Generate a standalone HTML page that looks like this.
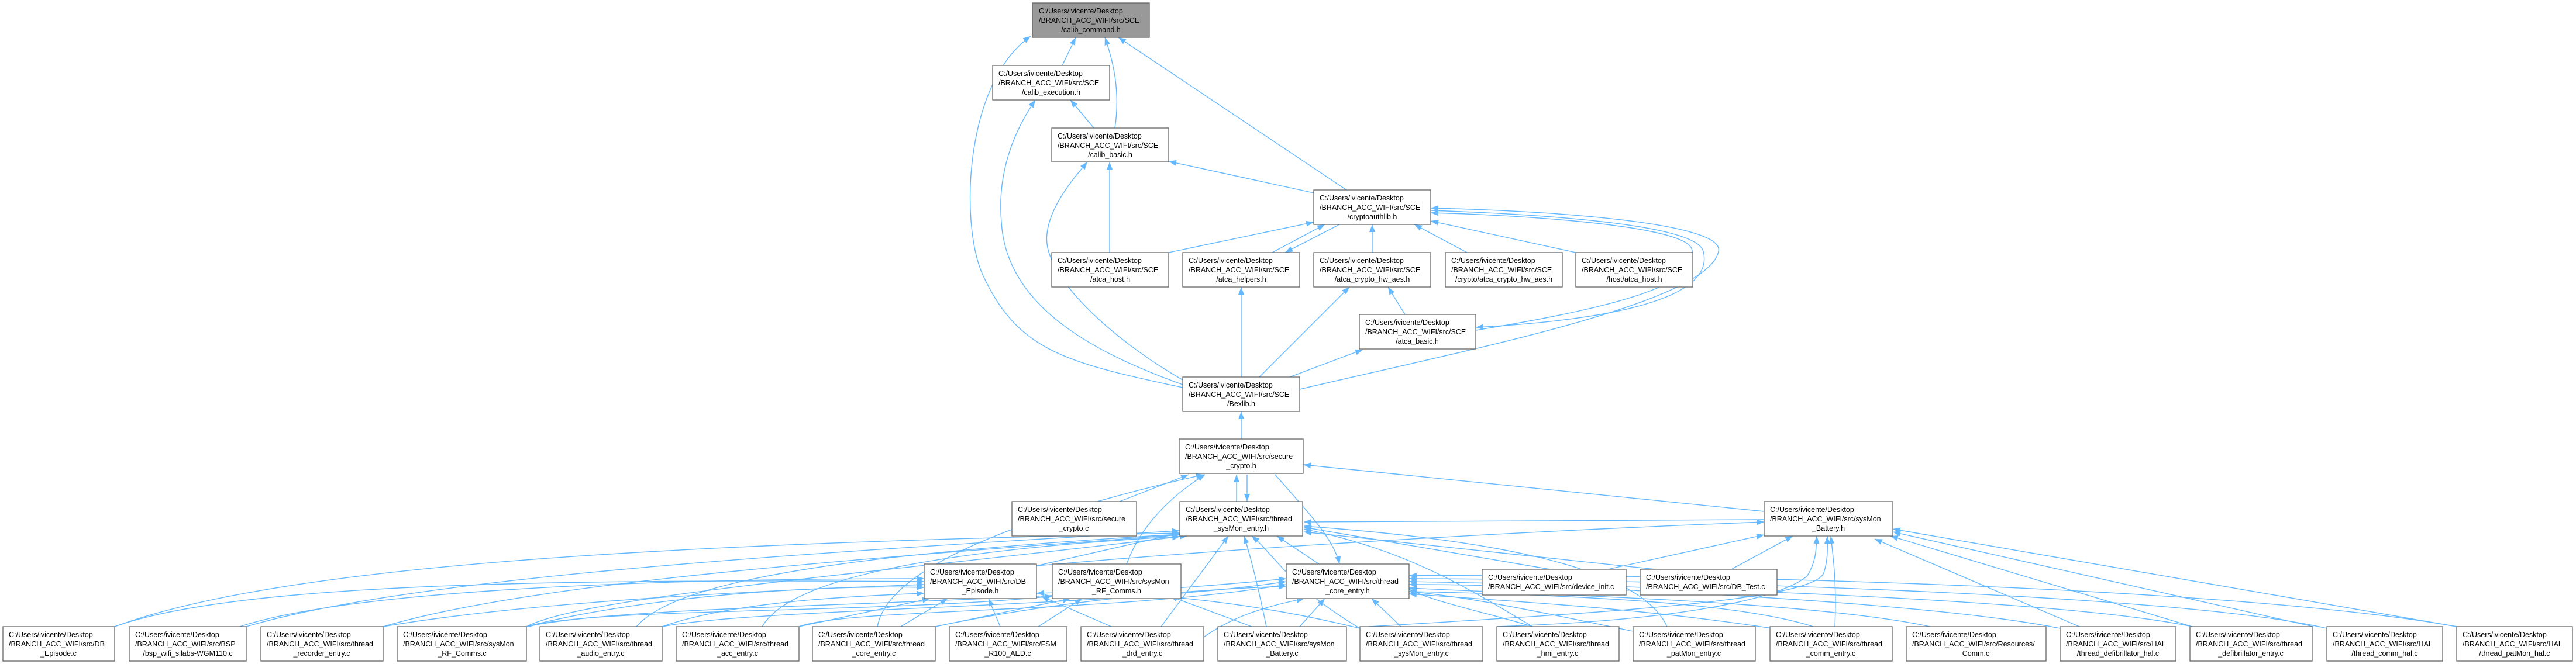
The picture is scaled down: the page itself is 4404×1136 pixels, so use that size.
<!DOCTYPE html>
<html><head><meta charset="utf-8"><style>
html,body{margin:0;padding:0;background:#fff;}
svg{display:block;}
text{font-family:"Liberation Sans",Arial,sans-serif;font-size:12.5px;fill:#000;}
.e{fill:none;stroke:#63b8ff;stroke-width:1.4;marker-end:url(#a);}
.n{fill:#fff;stroke:#666;stroke-width:1.3;}
</style></head><body>
<svg width="4404" height="1136" viewBox="0 0 4404 1136" xmlns="http://www.w3.org/2000/svg">
<defs><marker id="a" markerUnits="userSpaceOnUse" markerWidth="14" markerHeight="10" refX="13" refY="5" orient="auto"><path d="M0,0 L13,5 L0,10 z" fill="#63b8ff"/></marker></defs>
<g>
<path class="e" d="M1816,112 L1839,64"/>
<path class="e" d="M1906,219 C1915,160 1905,110 1889,64"/>
<path class="e" d="M2302,325 L1912,64"/>
<path class="e" d="M2022,663 C1820,620 1740,600 1680,470 C1640,380 1650,140 1762,62"/>
<path class="e" d="M1870,219 L1830,171"/>
<path class="e" d="M2022,658 C1860,600 1720,520 1712,380 C1705,300 1730,230 1770,171"/>
<path class="e" d="M2246,330 L1998,276"/>
<path class="e" d="M1897,432 L1897,277"/>
<path class="e" d="M2022,650 C1900,580 1780,470 1790,400 C1795,350 1840,300 1859,277"/>
<path class="e" d="M1998,432 L2246,380"/>
<path class="e" d="M2175,432 L2265,384"/>
<path class="e" d="M2290,384 L2197,432"/>
<path class="e" d="M2346,432 L2346,384"/>
<path class="e" d="M2508,432 L2418,384"/>
<path class="e" d="M2694,432 L2446,378"/>
<path class="e" d="M2523,565 C2800,520 2910,480 2892,425 C2875,385 2600,368 2446,364"/>
<path class="e" d="M2446,360 C2620,366 2900,382 2912,430 C2930,500 2800,545 2523,560"/>
<path class="e" d="M2222,666 C2500,600 2920,520 2938,430 C2950,380 2640,360 2446,356"/>
<path class="e" d="M2122,645 L2122,491"/>
<path class="e" d="M2153,645 L2307,491"/>
<path class="e" d="M2402,538 L2373,491"/>
<path class="e" d="M2205,645 L2330,598"/>
<path class="e" d="M2122,751 L2122,704"/>
<path class="e" d="M1914,858 L2032,812"/>
<path class="e" d="M2114,858 L2114,812"/>
<path class="e" d="M2132,812 L2132,858"/>
<path class="e" d="M3016,875 L2228,795"/>
<path class="e" d="M2180,812 C2230,870 2280,920 2290,965"/>
<path class="e" d="M1926,965 C1950,900 2000,850 2060,812"/>
<path class="e" d="M3016,889 L2229,893"/>
<path class="e" d="M1772,968 C2200,930 2700,905 3016,893"/>
<path class="e" d="M1772,968 L2017,912"/>
<path class="e" d="M2255,965 L2183,917"/>
<path class="e" d="M196,1072 C500,960 1200,930 2017,912"/>
<path class="e" d="M196,1072 C400,1000 900,990 1580,995"/>
<path class="e" d="M421,1072 C700,990 1300,950 2017,908"/>
<path class="e" d="M410,1072 C600,1010 1100,990 1580,990"/>
<path class="e" d="M655,1072 C900,1000 1400,960 2017,915"/>
<path class="e" d="M655,1072 C900,1030 1300,1010 1580,1000"/>
<path class="e" d="M900,1072 C1000,1020 1500,980 2017,918"/>
<path class="e" d="M900,1072 C1100,1020 1400,1000 1580,1005"/>
<path class="e" d="M900,1072 C1100,1030 1700,1040 2199,990"/>
<path class="e" d="M905,1072 C1000,1040 1500,1050 1799,1020"/>
<path class="e" d="M1088,1072 C1150,1000 1400,950 2017,914"/>
<path class="e" d="M1132,1072 C1300,1040 1900,1040 2199,995"/>
<path class="e" d="M1132,1072 C1250,1030 1450,1020 1580,1015"/>
<path class="e" d="M1303,1072 C1350,990 1600,940 2030,917"/>
<path class="e" d="M1366,1072 C1450,1040 1900,1050 2199,1000"/>
<path class="e" d="M1366,1072 L1590,1024"/>
<path class="e" d="M1500,1072 C1520,960 1800,870 2058,812"/>
<path class="e" d="M1540,1072 L1620,1024"/>
<path class="e" d="M1599,1072 L1830,1024"/>
<path class="e" d="M1599,1072 C1800,1030 2000,1010 2199,1003"/>
<path class="e" d="M1710,1072 L1690,1024"/>
<path class="e" d="M1775,1072 L1850,1024"/>
<path class="e" d="M1985,1072 L2100,917"/>
<path class="e" d="M1900,1072 L1780,1020"/>
<path class="e" d="M2058,1090 C2100,1060 2150,1040 2230,1024"/>
<path class="e" d="M2165,1072 C2150,1000 2140,960 2127,917"/>
<path class="e" d="M2222,1072 L2265,1024"/>
<path class="e" d="M2140,1072 L2000,1020"/>
<path class="e" d="M2395,1072 L2345,1024"/>
<path class="e" d="M2325,1075 C2200,1000 2180,950 2140,917"/>
<path class="e" d="M2325,1075 C2100,1020 1900,1010 1772,1015"/>
<path class="e" d="M2620,1072 C2550,1050 2450,1030 2409,1008"/>
<path class="e" d="M2620,1072 C2500,1000 2400,940 2229,905"/>
<path class="e" d="M2792,1080 C2600,1040 2500,1020 2409,1012"/>
<path class="e" d="M2850,1072 C2800,960 2500,920 2229,900"/>
<path class="e" d="M3137,1072 C3140,1000 3135,960 3130,917"/>
<path class="e" d="M3030,1075 C2800,1040 2600,1030 2409,1016"/>
<path class="e" d="M3100,1072 C3000,1040 2800,1020 2409,1012"/>
<path class="e" d="M3300,1072 C3100,1030 2700,1020 2409,1006"/>
<path class="e" d="M3555,1072 L3205,922"/>
<path class="e" d="M3522,1075 C3300,1030 2700,1000 2409,1000"/>
<path class="e" d="M3748,1072 L3232,917"/>
<path class="e" d="M3748,1072 C3500,1020 2700,1000 2409,995"/>
<path class="e" d="M3955,1072 L3236,910"/>
<path class="e" d="M3978,1075 C3700,1010 2700,990 2409,990"/>
<path class="e" d="M4200,1072 L3236,905"/>
<path class="e" d="M4200,1072 C3800,1000 2800,980 2409,985"/>
<path class="e" d="M2650,974 L2229,902"/>
<path class="e" d="M2749,974 L3016,915"/>
<path class="e" d="M2830,974 L2229,910"/>
<path class="e" d="M2960,974 L3065,917"/>
<path class="e" d="M2560,1072 C2900,1060 3050,1020 3090,985 C3105,960 3105,940 3106,917"/>
<path class="e" d="M2340,1072 C2700,1050 3100,1030 3118,980 C3126,955 3124,935 3124,917"/>
</g>
<g>
<rect x="1765" y="5" width="200" height="59" fill="#999" stroke="#666" stroke-width="1.3"/>
<text x="1776" y="23">C:/Users/ivicente/Desktop</text><text x="1776" y="39">/BRANCH_ACC_WIFI/src/SCE</text><text x="1865" y="55" text-anchor="middle">/calib_command.h</text>
<rect class="n" x="1697" y="112" width="200" height="59"/>
<text x="1707" y="130">C:/Users/ivicente/Desktop</text><text x="1707" y="146">/BRANCH_ACC_WIFI/src/SCE</text><text x="1797" y="162" text-anchor="middle">/calib_execution.h</text>
<rect class="n" x="1798" y="219" width="200" height="58"/>
<text x="1808" y="237">C:/Users/ivicente/Desktop</text><text x="1808" y="253">/BRANCH_ACC_WIFI/src/SCE</text><text x="1898" y="269" text-anchor="middle">/calib_basic.h</text>
<rect class="n" x="2246" y="325" width="200" height="59"/>
<text x="2256" y="343">C:/Users/ivicente/Desktop</text><text x="2256" y="359">/BRANCH_ACC_WIFI/src/SCE</text><text x="2346" y="375" text-anchor="middle">/cryptoauthlib.h</text>
<rect class="n" x="1798" y="432" width="200" height="59"/>
<text x="1808" y="450">C:/Users/ivicente/Desktop</text><text x="1808" y="466">/BRANCH_ACC_WIFI/src/SCE</text><text x="1898" y="482" text-anchor="middle">/atca_host.h</text>
<rect class="n" x="2022" y="432" width="200" height="59"/>
<text x="2032" y="450">C:/Users/ivicente/Desktop</text><text x="2032" y="466">/BRANCH_ACC_WIFI/src/SCE</text><text x="2122" y="482" text-anchor="middle">/atca_helpers.h</text>
<rect class="n" x="2246" y="432" width="200" height="59"/>
<text x="2256" y="450">C:/Users/ivicente/Desktop</text><text x="2256" y="466">/BRANCH_ACC_WIFI/src/SCE</text><text x="2346" y="482" text-anchor="middle">/atca_crypto_hw_aes.h</text>
<rect class="n" x="2471" y="432" width="200" height="59"/>
<text x="2481" y="450">C:/Users/ivicente/Desktop</text><text x="2481" y="466">/BRANCH_ACC_WIFI/src/SCE</text><text x="2571" y="482" text-anchor="middle">/crypto/atca_crypto_hw_aes.h</text>
<rect class="n" x="2694" y="432" width="200" height="59"/>
<text x="2704" y="450">C:/Users/ivicente/Desktop</text><text x="2704" y="466">/BRANCH_ACC_WIFI/src/SCE</text><text x="2794" y="482" text-anchor="middle">/host/atca_host.h</text>
<rect class="n" x="2324" y="538" width="199" height="59"/>
<text x="2334" y="556">C:/Users/ivicente/Desktop</text><text x="2334" y="572">/BRANCH_ACC_WIFI/src/SCE</text><text x="2423" y="588" text-anchor="middle">/atca_basic.h</text>
<rect class="n" x="2022" y="645" width="200" height="59"/>
<text x="2032" y="663">C:/Users/ivicente/Desktop</text><text x="2032" y="679">/BRANCH_ACC_WIFI/src/SCE</text><text x="2122" y="695" text-anchor="middle">/Bexlib.h</text>
<rect class="n" x="2016" y="751" width="212" height="59"/>
<text x="2026" y="769">C:/Users/ivicente/Desktop</text><text x="2026" y="785">/BRANCH_ACC_WIFI/src/secure</text><text x="2122" y="801" text-anchor="middle">_crypto.h</text>
<rect class="n" x="1730" y="858" width="213" height="59"/>
<text x="1740" y="876">C:/Users/ivicente/Desktop</text><text x="1740" y="892">/BRANCH_ACC_WIFI/src/secure</text><text x="1836" y="908" text-anchor="middle">_crypto.c</text>
<rect class="n" x="2017" y="858" width="210" height="59"/>
<text x="2027" y="876">C:/Users/ivicente/Desktop</text><text x="2027" y="892">/BRANCH_ACC_WIFI/src/thread</text><text x="2122" y="908" text-anchor="middle">_sysMon_entry.h</text>
<rect class="n" x="3016" y="858" width="220" height="59"/>
<text x="3026" y="876">C:/Users/ivicente/Desktop</text><text x="3026" y="892">/BRANCH_ACC_WIFI/src/sysMon</text><text x="3126" y="908" text-anchor="middle">_Battery.h</text>
<rect class="n" x="1580" y="965" width="192" height="59"/>
<text x="1590" y="983">C:/Users/ivicente/Desktop</text><text x="1590" y="999">/BRANCH_ACC_WIFI/src/DB</text><text x="1676" y="1015" text-anchor="middle">_Episode.h</text>
<rect class="n" x="1799" y="965" width="220" height="59"/>
<text x="1809" y="983">C:/Users/ivicente/Desktop</text><text x="1809" y="999">/BRANCH_ACC_WIFI/src/sysMon</text><text x="1909" y="1015" text-anchor="middle">_RF_Comms.h</text>
<rect class="n" x="2199" y="965" width="210" height="59"/>
<text x="2209" y="983">C:/Users/ivicente/Desktop</text><text x="2209" y="999">/BRANCH_ACC_WIFI/src/thread</text><text x="2304" y="1015" text-anchor="middle">_core_entry.h</text>
<rect class="n" x="2534" y="974" width="246" height="44"/>
<text x="2544" y="992">C:/Users/ivicente/Desktop</text><text x="2544" y="1008">/BRANCH_ACC_WIFI/src/device_init.c</text>
<rect class="n" x="2804" y="974" width="234" height="44"/>
<text x="2814" y="992">C:/Users/ivicente/Desktop</text><text x="2814" y="1008">/BRANCH_ACC_WIFI/src/DB_Test.c</text>
</g>
<g>
<rect class="n" x="5" y="1072" width="191" height="59"/><text x="15" y="1090">C:/Users/ivicente/Desktop</text><text x="15" y="1106">/BRANCH_ACC_WIFI/src/DB</text><text x="100" y="1122" text-anchor="middle">_Episode.c</text>
<rect class="n" x="221" y="1072" width="200" height="59"/><text x="231" y="1090">C:/Users/ivicente/Desktop</text><text x="231" y="1106">/BRANCH_ACC_WIFI/src/BSP</text><text x="321" y="1122" text-anchor="middle">/bsp_wifi_silabs-WGM110.c</text>
<rect class="n" x="446" y="1072" width="209" height="59"/><text x="456" y="1090">C:/Users/ivicente/Desktop</text><text x="456" y="1106">/BRANCH_ACC_WIFI/src/thread</text><text x="550" y="1122" text-anchor="middle">_recorder_entry.c</text>
<rect class="n" x="679" y="1072" width="221" height="59"/><text x="689" y="1090">C:/Users/ivicente/Desktop</text><text x="689" y="1106">/BRANCH_ACC_WIFI/src/sysMon</text><text x="790" y="1122" text-anchor="middle">_RF_Comms.c</text>
<rect class="n" x="923" y="1072" width="209" height="59"/><text x="933" y="1090">C:/Users/ivicente/Desktop</text><text x="933" y="1106">/BRANCH_ACC_WIFI/src/thread</text><text x="1027" y="1122" text-anchor="middle">_audio_entry.c</text>
<rect class="n" x="1156" y="1072" width="210" height="59"/><text x="1166" y="1090">C:/Users/ivicente/Desktop</text><text x="1166" y="1106">/BRANCH_ACC_WIFI/src/thread</text><text x="1261" y="1122" text-anchor="middle">_acc_entry.c</text>
<rect class="n" x="1389" y="1072" width="210" height="59"/><text x="1399" y="1090">C:/Users/ivicente/Desktop</text><text x="1399" y="1106">/BRANCH_ACC_WIFI/src/thread</text><text x="1494" y="1122" text-anchor="middle">_core_entry.c</text>
<rect class="n" x="1623" y="1072" width="201" height="59"/><text x="1633" y="1090">C:/Users/ivicente/Desktop</text><text x="1633" y="1106">/BRANCH_ACC_WIFI/src/FSM</text><text x="1723" y="1122" text-anchor="middle">_R100_AED.c</text>
<rect class="n" x="1848" y="1072" width="210" height="59"/><text x="1858" y="1090">C:/Users/ivicente/Desktop</text><text x="1858" y="1106">/BRANCH_ACC_WIFI/src/thread</text><text x="1953" y="1122" text-anchor="middle">_drd_entry.c</text>
<rect class="n" x="2082" y="1072" width="220" height="59"/><text x="2092" y="1090">C:/Users/ivicente/Desktop</text><text x="2092" y="1106">/BRANCH_ACC_WIFI/src/sysMon</text><text x="2192" y="1122" text-anchor="middle">_Battery.c</text>
<rect class="n" x="2325" y="1072" width="210" height="59"/><text x="2335" y="1090">C:/Users/ivicente/Desktop</text><text x="2335" y="1106">/BRANCH_ACC_WIFI/src/thread</text><text x="2430" y="1122" text-anchor="middle">_sysMon_entry.c</text>
<rect class="n" x="2559" y="1072" width="209" height="59"/><text x="2569" y="1090">C:/Users/ivicente/Desktop</text><text x="2569" y="1106">/BRANCH_ACC_WIFI/src/thread</text><text x="2663" y="1122" text-anchor="middle">_hmi_entry.c</text>
<rect class="n" x="2792" y="1072" width="209" height="59"/><text x="2802" y="1090">C:/Users/ivicente/Desktop</text><text x="2802" y="1106">/BRANCH_ACC_WIFI/src/thread</text><text x="2896" y="1122" text-anchor="middle">_patMon_entry.c</text>
<rect class="n" x="3026" y="1072" width="209" height="59"/><text x="3036" y="1090">C:/Users/ivicente/Desktop</text><text x="3036" y="1106">/BRANCH_ACC_WIFI/src/thread</text><text x="3130" y="1122" text-anchor="middle">_comm_entry.c</text>
<rect class="n" x="3259" y="1072" width="239" height="59"/><text x="3269" y="1090">C:/Users/ivicente/Desktop</text><text x="3269" y="1106">/BRANCH_ACC_WIFI/src/Resources/</text><text x="3378" y="1122" text-anchor="middle">Comm.c</text>
<rect class="n" x="3522" y="1072" width="198" height="59"/><text x="3532" y="1090">C:/Users/ivicente/Desktop</text><text x="3532" y="1106">/BRANCH_ACC_WIFI/src/HAL</text><text x="3621" y="1122" text-anchor="middle">/thread_defibrillator_hal.c</text>
<rect class="n" x="3744" y="1072" width="209" height="59"/><text x="3754" y="1090">C:/Users/ivicente/Desktop</text><text x="3754" y="1106">/BRANCH_ACC_WIFI/src/thread</text><text x="3848" y="1122" text-anchor="middle">_defibrillator_entry.c</text>
<rect class="n" x="3978" y="1072" width="198" height="59"/><text x="3988" y="1090">C:/Users/ivicente/Desktop</text><text x="3988" y="1106">/BRANCH_ACC_WIFI/src/HAL</text><text x="4077" y="1122" text-anchor="middle">/thread_comm_hal.c</text>
<rect class="n" x="4200" y="1072" width="198" height="59"/><text x="4210" y="1090">C:/Users/ivicente/Desktop</text><text x="4210" y="1106">/BRANCH_ACC_WIFI/src/HAL</text><text x="4299" y="1122" text-anchor="middle">/thread_patMon_hal.c</text>
</g>
</svg>
</body></html>
